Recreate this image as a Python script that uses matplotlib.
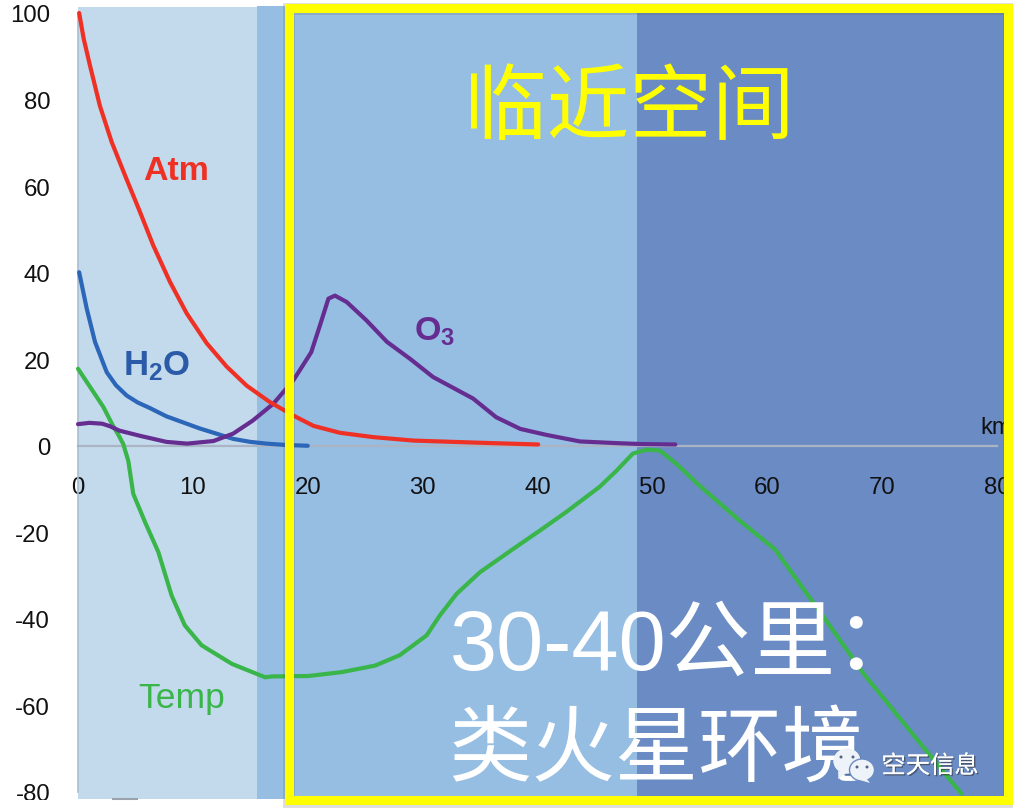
import matplotlib
matplotlib.use('Agg')
import matplotlib.pyplot as plt
from matplotlib.patches import Rectangle, Ellipse, Polygon
import matplotlib.patheffects as pe

plt.rcParams['font.family'] = ['Liberation Sans', 'DejaVu Sans']
plt.rcParams['axes.unicode_minus'] = False
plt.rcParams['mathtext.fontset'] = 'custom'
plt.rcParams['mathtext.bf'] = 'Liberation Sans:bold'
plt.rcParams['mathtext.rm'] = 'Liberation Sans'
cjk = ['Noto Sans CJK SC', 'DejaVu Sans']
latin_cjk = ['Liberation Sans', 'Noto Sans CJK SC']

# values (km, value)
atm_km = [0.1, 0.5, 1.04, 1.9, 2.93, 4.09, 5.4, 6.55, 8, 9.46, 11.2, 12.94, 14.68, 16.7, 18.74, 20.5, 22.8, 25.7, 29.2, 35, 40.06]
atm_val = [100, 94, 87.9, 78.6, 70.2, 62.5, 54, 46.3, 37.9, 30.6, 23.7, 18.3, 13.9, 10.1, 7, 4.6, 3, 2, 1.2, 0.7, 0.3]

h2o_km = [0.1, 0.76, 1.48, 2.5, 3.3, 4.24, 5.2, 6.27, 7.7, 10.6, 13.5, 15, 16.4, 18, 20]
h2o_val = [40.1, 31.7, 24, 17, 14, 11.6, 10, 8.7, 6.8, 4, 1.6, 0.9, 0.5, 0.2, 0]

o3_km = [0, 1, 2.1, 2.8, 3.6, 5.4, 7.7, 9.5, 11.8, 13.5, 15.2, 17, 18.74, 20.3, 21.06, 21.8, 22.37, 23.4, 25.1, 26.9, 28.9, 30.9, 34.4, 36.4, 38.5, 40.8, 43.7, 47, 49, 52]
o3_val = [5, 5.3, 5.1, 4.5, 3.5, 2.3, 0.9, 0.5, 1.1, 2.8, 5.8, 9.7, 15.1, 21.6, 27.8, 34, 34.7, 33.2, 29, 24, 20.1, 15.9, 10.9, 6.6, 3.9, 2.5, 1, 0.6, 0.4, 0.3]

temp_km = [0, 2.2, 3.05, 3.5, 3.94, 4.38, 4.81, 5.83, 7, 8.15, 9.3, 10.76, 13.4, 16.3, 16.86, 20.05, 22.95, 25.85, 28, 30.35, 31.5, 32.96, 35, 37.9, 40.2, 42.5, 45.4, 46.9, 48.3, 49.5, 50.65, 52.1, 54.1, 57.6, 60.7, 65.45, 68.4, 73.7, 76.9]
temp_val = [17.8, 9, 4.6, 2.6, 0.4, -3.5, -11.1, -17.6, -24.6, -34.6, -41.5, -46.1, -50.4, -53.5, -53.3, -53.2, -52.3, -50.8, -48.4, -43.8, -39.2, -34.2, -29.2, -23.8, -19.6, -15.3, -9.5, -5.7, -1.8, -0.9, -1.1, -4.2, -9.2, -17.3, -24, -41.6, -52.7, -70, -80.4]

x_ticks = [0, 10, 20, 30, 40, 50, 60, 70, 80]
y_ticks = [100, 80, 60, 40, 20, 0, -20, -40, -60, -80]

band_edges = [0, 15.6, 48.7, 80.7]
band_colors = ['#c3daec', '#96bee3', '#6a8bc4']

W, H = 1013, 812
fig = plt.figure(figsize=(W / 100, H / 100), dpi=100, facecolor='white')
ax = fig.add_axes([78 / W, (H - 793) / H, (997 - 78) / W, (793 - 14) / H])
ax.patch.set_visible(False)
ax.set_xlim(0, 80)
ax.set_ylim(-80, 100)

for i in range(3):
    top = 101.6 if i > 0 else 101.4
    ax.add_patch(Rectangle((band_edges[i], -81.6), band_edges[i + 1] - band_edges[i], top + 81.6,
                           fc=band_colors[i], ec='none', zorder=1, clip_on=False))

for s in ['top', 'right']:
    ax.spines[s].set_visible(False)
ax.spines['bottom'].set_position(('data', 0))
ax.spines['bottom'].set_color('#aab4c2')
ax.spines['bottom'].set_linewidth(1.6)
ax.spines['bottom'].set_zorder(2)
ax.spines['left'].set_color('#a8bdd2')
ax.spines['left'].set_linewidth(1.2)
ax.spines['left'].set_zorder(2)

ax.set_xticks(x_ticks)
ax.set_yticks(y_ticks)
ax.tick_params(axis='both', length=0, labelsize=17.3, labelcolor='#111111')
ax.tick_params(axis='x', pad=21.5)
ax.tick_params(axis='y', pad=20)

line_style = dict(lw=3.0, clip_on=False, solid_capstyle='round', solid_joinstyle='round')
ax.plot(atm_km, atm_val, color='#ee3124', zorder=4, **line_style)
ax.plot(h2o_km, h2o_val, color='#2b66b8', zorder=3, **line_style)
ax.plot(o3_km, o3_val, color='#662d91', zorder=3.5, **line_style)
ax.plot(temp_km, temp_val, color='#39b54a', zorder=3, **line_style)

# overlay in image pixels for frame, captions and mark
ov = fig.add_axes([0, 0, 1, 1])
ov.set_xlim(0, W)
ov.set_ylim(H, 0)
ov.axis('off')
ov.patch.set_visible(False)

ov.text(143, 171, 'Atm', color='#ee3124', fontsize=24.5, fontweight='bold', va='center')
ov.text(123, 366, r'$\mathbf{H_2O}$', color='#2a5aa8', fontsize=25, va='center')
ov.text(414, 332, r'$\mathbf{O_3}$', color='#662d91', fontsize=24.5, va='center')
ov.text(138, 699, 'Temp', color='#39b54a', fontsize=25.5, va='center')
ov.text(980, 428, 'km', color='#111111', fontsize=17, va='center')

ov.add_patch(Rectangle((0, 801), 284, 11, fc='white', ec='none', zorder=5))
ov.plot([113, 137], [800, 800], color='#9aa3ad', lw=1.5, zorder=6)

# frame with a thin shadow
ov.add_patch(Rectangle((288.5, 9.5), 720, 793, fill=False, ec='#555555', lw=8.5, alpha=0.2, zorder=7))
ov.add_patch(Rectangle((288.5, 8.5), 719.5, 792.5, fill=False, ec='#ffff00', lw=6.5, zorder=8, joinstyle='miter'))

ov.text(629, 109, '临近空间', color='#ffff00', fontsize=59.5, family=cjk, ha='center', va='center', zorder=9)
ov.text(450, 670, '30-40公里：', color='white', fontsize=61, family=latin_cjk, ha='left', va='baseline', zorder=9)
ov.text(448, 750, '类火星环境', color='white', fontsize=60, family=cjk, ha='left', va='center', zorder=9)

# small chat mark
shadow = [pe.withSimplePatchShadow(offset=(1, -1), shadow_rgbFace='#444444', alpha=0.5), pe.Normal()]
ov.add_patch(Ellipse((847, 762), 27, 25, fc='#eef3fa', ec='none', zorder=10, path_effects=shadow))
ov.add_patch(Polygon([[840, 771], [838, 780], [848, 773]], fc='#eef3fa', ec='none', zorder=10))
ov.add_patch(Ellipse((862, 771), 25, 22, fc='#eef3fa', ec='#6a8bc4', lw=1, zorder=11))
ov.add_patch(Polygon([[866, 779], [870, 784], [860, 781]], fc='#eef3fa', ec='none', zorder=11))
for ex, ey in [(841, 758), (853, 758), (857, 768), (867, 768)]:
    ov.add_patch(Ellipse((ex, ey), 3, 3, fc='#56657f', ec='none', zorder=12))
ov.text(930, 767, '空天信息', color='white', fontsize=17.5, family=cjk, ha='center', va='center', zorder=12,
        path_effects=[pe.withSimplePatchShadow(offset=(1, -1), shadow_rgbFace='#333333', alpha=0.6), pe.Normal()])

fig.savefig('out.png', dpi=100)
